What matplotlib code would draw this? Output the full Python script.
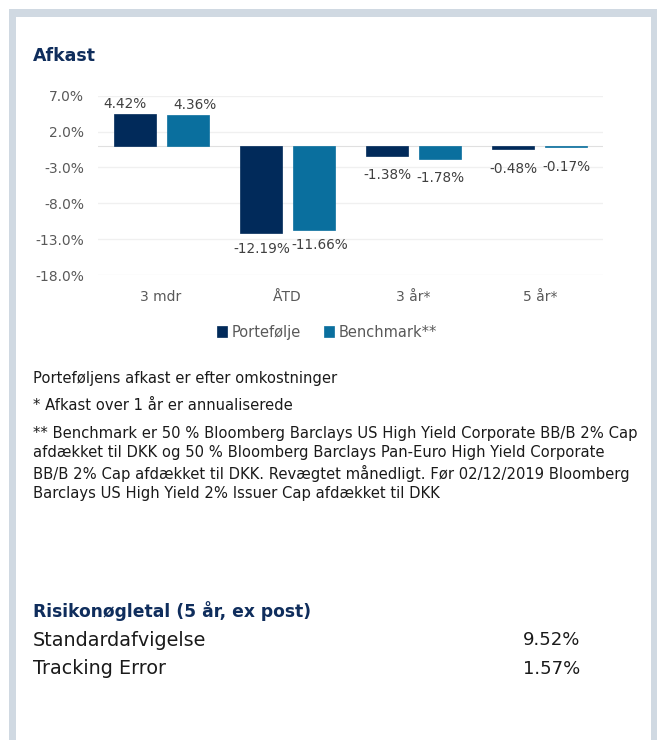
import matplotlib
matplotlib.use("Agg")
import matplotlib.pyplot as plt
import numpy as np
from matplotlib.patches import Rectangle

plt.rcParams['font.family'] = ['DejaVu Sans']

# data
categories = ["3 mdr", "ÅTD", "3 år*", "5 år*"]
portfolio = [4.42, -12.19, -1.38, -0.48]
benchmark = [4.36, -11.66, -1.78, -0.17]
series_names = ["Portefølje", "Benchmark**"]
yticks = [7.0, 2.0, -3.0, -8.0, -13.0, -18.0]

risk_labels = ["Standardafvigelse", "Tracking Error"]
risk_values = ["9.52%", "1.57%"]

notes = [
    "Porteføljens afkast er efter omkostninger",
    "* Afkast over 1 år er annualiserede",
    "** Benchmark er 50 % Bloomberg Barclays US High Yield Corporate BB/B 2% Cap\n"
    "afdækket til DKK og 50 % Bloomberg Barclays Pan-Euro High Yield Corporate\n"
    "BB/B 2% Cap afdækket til DKK. Revægtet månedligt. Før 02/12/2019 Bloomberg\n"
    "Barclays US High Yield 2% Issuer Cap afdækket til DKK",
]

NAVY = "#012a5a"
TEAL = "#0a6f9e"
TITLE = "#0f2d5c"
GREY = "#595959"

W, H = 657, 740
fig = plt.figure(figsize=(W / 100, H / 100), dpi=100)

def fx(px):
    return px / W

def fy(py):
    return 1 - py / H

# frame around the card
fig.patches.append(Rectangle((fx(9), 0), fx(W + 10), fy(9), transform=fig.transFigure,
                             facecolor="#d0d9e2", edgecolor="none", zorder=-2))
fig.patches.append(Rectangle((fx(16), 0), fx(651 - 16), fy(17), transform=fig.transFigure,
                             facecolor="white", edgecolor="none", zorder=-1))

# bar chart
ax = fig.add_axes([fx(98), fy(275), fx(603 - 98), (275 - 95.7) / H])
ax.set_zorder(1)
x = np.arange(len(categories))
bw = 0.333
off = 0.21
b1 = ax.bar(x - off, portfolio, bw, color=NAVY, edgecolor=NAVY, linewidth=0.5, label=series_names[0], zorder=3)
b2 = ax.bar(x + off, benchmark, bw, color=TEAL, edgecolor=TEAL, linewidth=0.5, label=series_names[1], zorder=3)

ax.set_ylim(-18, 7)
ax.set_xlim(-0.5, len(categories) - 0.5)
ax.set_yticks(yticks)
ax.set_yticklabels([f"{t:.1f}%" for t in yticks])
ax.set_xticks(x)
ax.set_xticklabels(categories)
ax.tick_params(length=0, colors=GREY, labelsize=10)
ax.tick_params(axis="y", pad=10)
ax.tick_params(axis="x", pad=11)
for s in ax.spines.values():
    s.set_visible(False)
ax.grid(axis="y", color="#f0f0f0", linewidth=1, zorder=0)
ax.axhline(0, color="#e0e0e0", linewidth=0.8, zorder=1)

# data labels (small nudges where the original labels sit off-centre)
nudge = {(0, 0): (-7, 0), (0, 1): (5, 0), (1, 0): (1, 3), (1, 1): (4, 3)}
for j, (bars, vals) in enumerate([(b1, portfolio), (b2, benchmark)]):
    for i, (r, v) in enumerate(zip(bars, vals)):
        dx, dy = nudge.get((i, j), (0, 0))
        cx = r.get_x() + r.get_width() / 2
        if v >= 0:
            ax.annotate(f"{v:.2f}%", (cx, v), xytext=(dx, 2 + dy), textcoords="offset points",
                        ha="center", va="bottom", fontsize=9.8, color="#404040")
        else:
            ax.annotate(f"{v:.2f}%", (cx, v), xytext=(dx, -9 + dy), textcoords="offset points",
                        ha="center", va="top", fontsize=9.8, color="#404040")

leg = fig.legend(handles=[b1, b2], labels=series_names, loc="center", bbox_to_anchor=(fx(327), fy(332)),
                 ncol=2, frameon=False, fontsize=10.5, handlelength=0.7, handleheight=0.7,
                 handletextpad=0.3, columnspacing=1.6)
for t in leg.get_texts():
    t.set_color(GREY)

# titles and text
fig.text(fx(33), fy(56), "Afkast", fontsize=12.5, fontweight="bold", color=TITLE, va="center")

fig.text(fx(33), fy(378), notes[0], fontsize=10.6, color="#1a1a1a", va="center")
fig.text(fx(33), fy(406), notes[1], fontsize=10.6, color="#1a1a1a", va="center")
fig.text(fx(33), fy(426), notes[2], fontsize=10.6, color="#1a1a1a", va="top", linespacing=1.35)

fig.text(fx(33), fy(611), "Risikonøgletal (5 år, ex post)", fontsize=12.3, fontweight="bold", color=TITLE, va="center")
for k, (lab, val) in enumerate(zip(risk_labels, risk_values)):
    yy = fy(640 + 29 * k)
    fig.text(fx(33), yy, lab, fontsize=13.8, color="#1a1a1a", va="center")
    fig.text(fx(580), yy, val, fontsize=13, color="#1a1a1a", va="center", ha="right")

fig.savefig("out.png", dpi=100)
